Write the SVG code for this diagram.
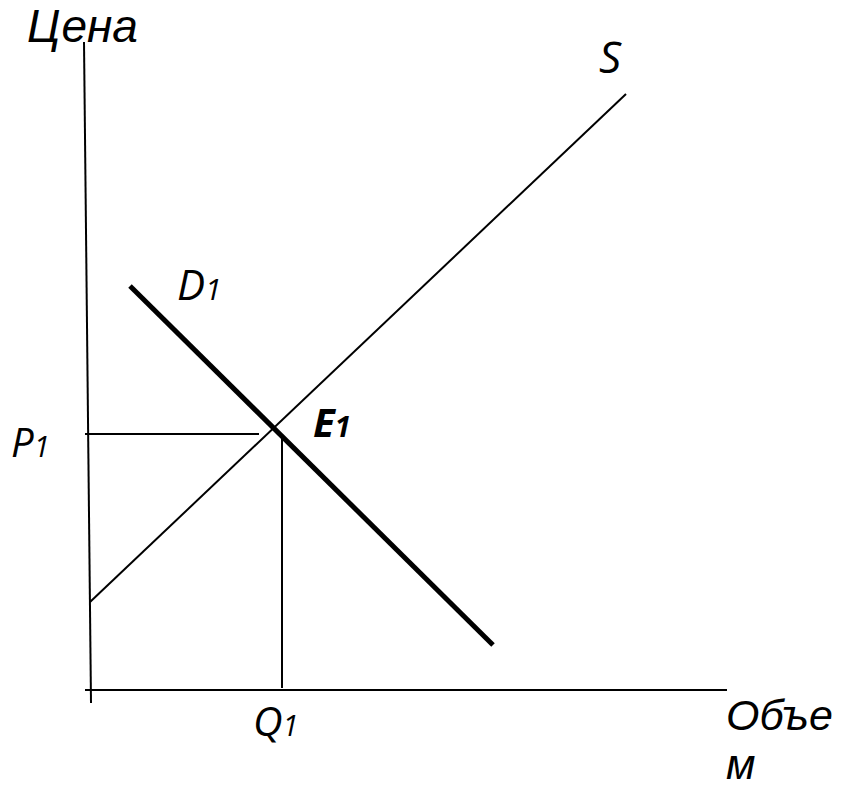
<svg xmlns="http://www.w3.org/2000/svg" width="846" height="793" viewBox="0 0 846 793">
<style>
.ax{stroke:#000;stroke-width:2;fill:none}
.thin{stroke:#000;stroke-width:2;fill:none}
.thick{stroke:#000;stroke-width:5;fill:none}
.ar{font-family:"Liberation Sans",Arial,sans-serif;font-style:italic;fill:#000}
.ca{font-family:"Open Sans","Liberation Sans",sans-serif;font-style:italic;fill:#000}
</style>
<rect width="846" height="793" fill="#fff"/>
<g id="connectors">
<line class="ax" x1="84" y1="42" x2="91" y2="703"/>
<line class="ax" x1="85" y1="690" x2="727" y2="690"/>
<line class="thin" x1="90" y1="602" x2="626" y2="94"/>
<line class="thick" x1="130" y1="286" x2="493" y2="645"/>
<line class="thin" x1="85" y1="434" x2="259" y2="434"/>
<line class="thin" x1="282" y1="438" x2="282" y2="688"/>
</g>
<g id="label-price"><text class="ar" x="27" y="42" font-size="46">Цена</text></g>
<g id="label-volume"><text class="ar" x="726" y="730" font-size="43">Объе</text><text class="ar" x="726" y="779" font-size="43">м</text></g>
<g id="label-S"><text class="ca" x="599" y="73" font-size="44">S</text></g>
<g id="label-D1"><text class="ca" x="177" y="300" font-size="42">D<tspan font-size="30">1</tspan></text></g>
<g id="label-P1"><text class="ca" x="11" y="457" font-size="40">P<tspan font-size="29">1</tspan></text></g>
<g id="label-E1"><text class="ca" x="313" y="437" font-size="40" font-weight="bold">E<tspan font-size="29">1</tspan></text></g>
<g id="label-Q1"><text class="ca" x="253" y="736" font-size="41">Q<tspan font-size="29">1</tspan></text></g>
</svg>
